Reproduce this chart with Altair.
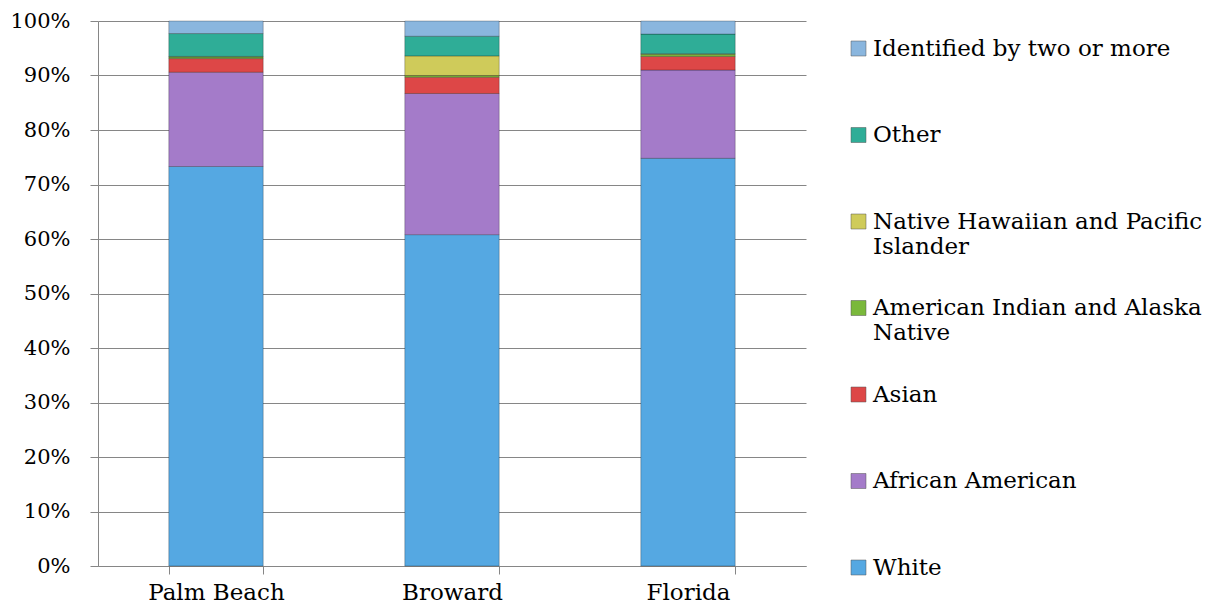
import altair as alt
import pandas as pd

categories = ["Palm Beach", "Broward", "Florida"]
groups = ["White", "African American", "Asian", "American Indian and Alaska Native",
          "Native Hawaiian and Pacific Islander", "Other", "Identified by two or more"]
palm_beach = [73.3, 17.3, 2.5, 0.3, 0.1, 4.2, 2.3]
broward = [60.8, 25.9, 3.0, 0.3, 3.6, 3.6, 2.8]
florida = [74.8, 16.2, 2.5, 0.4, 0.1, 3.6, 2.4]
colors = ["#55A8E2", "#A47BC9", "#DD4747", "#7AB83B", "#CFCB5A", "#2FAD97", "#8AB6DE"]

rows = []
for cat, vals in zip(categories, [palm_beach, broward, florida]):
    for i, (g, v) in enumerate(zip(groups, vals)):
        rows.append({"Area": cat, "Group": g, "Share": v / 100.0, "order": i})
df = pd.DataFrame(rows)

FONT = "DejaVu Serif"

label_expr = ("datum.label == 'Native Hawaiian and Pacific Islander' ? ['Native Hawaiian and Pacific', 'Islander'] : "
              "datum.label == 'American Indian and Alaska Native' ? ['American Indian and Alaska', 'Native'] : datum.label")

chart = alt.Chart(df).mark_bar(stroke="#000000", strokeOpacity=0.25, strokeWidth=1).encode(
    x=alt.X("Area:N", sort=categories, title=None,
            scale=alt.Scale(paddingInner=0.6, paddingOuter=0.3),
            axis=alt.Axis(labelAngle=0, tickBand="extent", tickSize=8, labelPadding=7,
                          domainColor="#868686", tickColor="#868686",
                          labelFont=FONT, labelFontSize=23, labelColor="#000000")),
    y=alt.Y("Share:Q", stack="zero", title=None,
            scale=alt.Scale(domain=[0, 1]),
            axis=alt.Axis(format=".0%", values=[i / 10 for i in range(11)], tickSize=8,
                          labelPadding=20, grid=True, gridColor="#868686",
                          domainColor="#868686", tickColor="#868686",
                          labelFont=FONT, labelFontSize=21, labelColor="#000000")),
    color=alt.Color("Group:N",
                    scale=alt.Scale(domain=groups[::-1], range=colors[::-1]),
                    legend=alt.Legend(title=None, orient="none", legendX=749, legendY=16,
                                      padding=0,
                                      symbolType="square", symbolSize=225,
                                      symbolStrokeColor="#555555", symbolStrokeWidth=0.5,
                                      labelFont=FONT, labelFontSize=23, labelColor="#000000",
                                      labelLimit=400, labelOffset=3, rowPadding=37.5,
                                      gridAlign="all",
                                      labelExpr=label_expr)),
    order=alt.Order("order:Q", sort="ascending"),
).properties(
    width=708, height=545,
    padding={"left": 1, "top": 2, "right": 0, "bottom": 0},
).configure_view(stroke=None)

chart.save("out.html", embed_options={"renderer": "svg", "actions": False})
